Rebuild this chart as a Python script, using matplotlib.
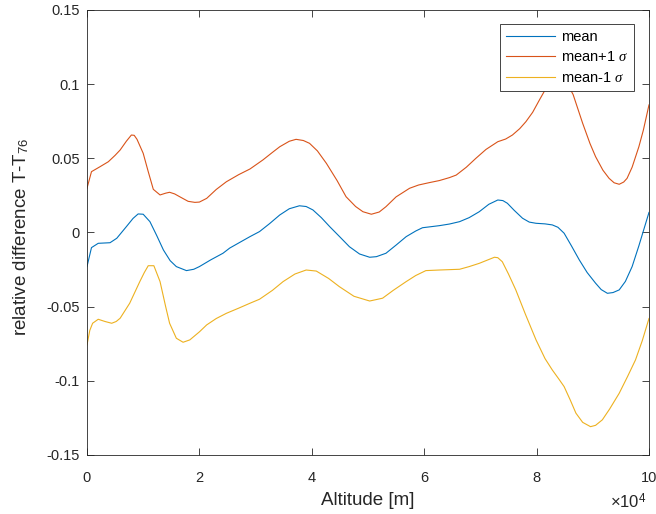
import matplotlib
matplotlib.use("Agg")
import matplotlib.pyplot as plt
import numpy as np
from matplotlib.ticker import FuncFormatter

plt.rcParams['font.family'] = ['Liberation Sans', 'DejaVu Sans']
plt.rcParams['mathtext.fontset'] = 'custom'
plt.rcParams['mathtext.rm'] = 'Liberation Sans'
plt.rcParams['mathtext.it'] = 'Liberation Serif:italic'

# altitude in units of 1e4 m
alt_mean = [0.00, 0.08, 0.20, 0.41, 0.53, 0.70, 0.82, 0.91, 1.00, 1.12, 1.24, 1.36, 1.48, 1.59,
            1.77, 1.90, 2.00, 2.20, 2.42, 2.54, 2.75, 2.90, 3.07, 3.25, 3.43, 3.60, 3.78, 3.90,
            4.02, 4.17, 4.32, 4.50, 4.67, 4.85, 5.03, 5.15, 5.32, 5.50, 5.68, 5.85, 5.97, 6.27,
            6.45, 6.63, 6.80, 6.98, 7.15, 7.31, 7.40, 7.48, 7.60, 7.75, 7.87, 7.99, 8.15, 8.28,
            8.38, 8.49, 8.62, 8.76, 8.90, 9.05, 9.15, 9.26, 9.36, 9.47, 9.58, 9.70, 9.82, 9.90, 10.0]
mean = [-0.023, -0.0102, -0.0073, -0.0069, -0.0039, 0.0039, 0.0095, 0.0125, 0.0123, 0.0073,
        -0.002, -0.0118, -0.019, -0.023, -0.0257, -0.0248, -0.023, -0.0185, -0.014, -0.0105,
        -0.006, -0.0028, 0.0006, 0.006, 0.0118, 0.016, 0.018, 0.0175, 0.0152, 0.010, 0.0039,
        -0.003, -0.0096, -0.0145, -0.0167, -0.0163, -0.014, -0.0085, -0.0028, 0.001, 0.0032,
        0.0046, 0.0057, 0.0073, 0.010, 0.014, 0.019, 0.0219, 0.0215, 0.0197, 0.015, 0.0096,
        0.007, 0.0062, 0.0058, 0.0051, 0.0035, -0.0005, -0.009, -0.0185, -0.027, -0.0342,
        -0.0385, -0.041, -0.0405, -0.0387, -0.033, -0.023, -0.009, 0.001, 0.0135]

alt_plus = [0.00, 0.08, 0.23, 0.38, 0.50, 0.59, 0.70, 0.79, 0.84, 0.89, 1.00, 1.09, 1.18, 1.30,
            1.40, 1.47, 1.56, 1.65, 1.80, 1.92, 2.00, 2.13, 2.30, 2.48, 2.70, 2.90, 3.13, 3.30,
            3.43, 3.60, 3.72, 3.85, 3.96, 4.10, 4.26, 4.45, 4.61, 4.78, 4.91, 5.06, 5.20, 5.32,
            5.50, 5.74, 5.90, 6.09, 6.27, 6.45, 6.57, 6.75, 6.92, 7.10, 7.31, 7.45, 7.57, 7.70,
            7.81, 7.93, 8.05, 8.15, 8.25, 8.35, 8.45, 8.55, 8.65, 8.82, 8.95, 9.05, 9.18, 9.29,
            9.38, 9.47, 9.55, 9.61, 9.70, 9.82, 9.90, 10.0]
mean_plus = [0.0298, 0.041, 0.0443, 0.0477, 0.052, 0.0556, 0.0615, 0.0657, 0.0655, 0.0628,
             0.0534, 0.041, 0.0291, 0.0253, 0.0265, 0.0271, 0.026, 0.0241, 0.021, 0.0203,
             0.0205, 0.023, 0.029, 0.0342, 0.039, 0.0428, 0.0489, 0.054, 0.0578, 0.0615,
             0.0628, 0.062, 0.0601, 0.055, 0.0466, 0.035, 0.0241, 0.0175, 0.014, 0.0123,
             0.0138, 0.0174, 0.024, 0.0298, 0.032, 0.0336, 0.035, 0.037, 0.0387, 0.044, 0.050,
             0.056, 0.0612, 0.063, 0.0657, 0.070, 0.0747, 0.081, 0.0893, 0.096, 0.101, 0.1035,
             0.1045, 0.100, 0.093, 0.0736, 0.060, 0.0511, 0.042, 0.0365, 0.0335, 0.0325, 0.034,
             0.0365, 0.044, 0.0578, 0.069, 0.086]

alt_minus = [0.00, 0.05, 0.10, 0.20, 0.32, 0.44, 0.52, 0.59, 0.76, 0.94, 1.02, 1.09, 1.19, 1.30,
             1.40, 1.47, 1.59, 1.71, 1.83, 2.00, 2.13, 2.30, 2.48, 2.70, 2.90, 3.07, 3.30, 3.49,
             3.70, 3.90, 4.08, 4.30, 4.49, 4.75, 5.03, 5.26, 5.45, 5.68, 5.85, 6.03, 6.27, 6.63,
             6.80, 6.98, 7.25, 7.31, 7.39, 7.50, 7.63, 7.80, 7.99, 8.15, 8.28, 8.40, 8.49, 8.60,
             8.70, 8.82, 8.96, 9.05, 9.17, 9.30, 9.47, 9.62, 9.76, 9.88, 10.0]
mean_minus = [-0.0758, -0.066, -0.0612, -0.0585, -0.060, -0.0612, -0.060, -0.0578, -0.0477,
              -0.0331, -0.027, -0.0224, -0.0224, -0.0331, -0.050, -0.0612, -0.0713, -0.074,
              -0.0724, -0.067, -0.0623, -0.058, -0.0545, -0.051, -0.0477, -0.045, -0.039,
              -0.0331, -0.028, -0.0253, -0.026, -0.031, -0.0365, -0.043, -0.0462, -0.0443,
              -0.039, -0.0331, -0.029, -0.0257, -0.0253, -0.0248, -0.023, -0.0208, -0.0167,
              -0.017, -0.0197, -0.028, -0.0387, -0.055, -0.0724, -0.085, -0.0927, -0.099,
              -0.1039, -0.113, -0.1218, -0.128, -0.1309, -0.130, -0.1263, -0.119, -0.1084,
              -0.097, -0.0859, -0.073, -0.058]

x_ticks = [0, 2e4, 4e4, 6e4, 8e4, 10e4]
y_ticks = [-0.15, -0.1, -0.05, 0, 0.05, 0.1, 0.15]
y_ticklabels = ["-0.15", "-0.1", "-0.05", "0", "0.05", "0.1", "0.15"]

AX_COLOR = "#262626"

fig = plt.figure(figsize=(6.56, 5.14), dpi=100)
ax = fig.add_axes([0.1326, 0.1148, 0.8567, 0.8658])

ax.plot(np.array(alt_mean) * 1e4, mean, color="#0072BD", lw=0.8, label="mean")
ax.plot(np.array(alt_plus) * 1e4, mean_plus, color="#D95319", lw=0.8, label=r"mean+1 $\sigma$")
ax.plot(np.array(alt_minus) * 1e4, mean_minus, color="#EDB120", lw=0.8, label=r"mean-1 $\sigma$")

ax.set_xlim(0, 1e5)
ax.set_ylim(-0.15, 0.15)
ax.set_xticks(x_ticks)
ax.set_yticks(y_ticks)
ax.set_yticklabels(y_ticklabels)
# tick labels in units of 1e4 with a MATLAB-style exponent note
ax.xaxis.set_major_formatter(FuncFormatter(lambda v, p: f"{v / 1e4:g}"))
ax.text(0.9964, -0.119, "\u00d710$^{4}$", transform=ax.transAxes, ha="right",
        va="baseline", fontsize=12, color=AX_COLOR)

ax.tick_params(direction="in", top=True, right=True, length=5, width=0.6,
               colors=AX_COLOR, labelsize=10.5)
ax.tick_params(axis="y", pad=5)
ax.tick_params(axis="x", pad=11.5)
for sp in ax.spines.values():
    sp.set_color(AX_COLOR)
    sp.set_linewidth(0.6)

ax.set_xlabel("Altitude [m]", fontsize=13.5, color=AX_COLOR, labelpad=5)
ax.set_ylabel("relative difference T-T$_{76}$", fontsize=13.5, color=AX_COLOR)
ax.yaxis.set_label_coords(-0.1, 0.49)

leg = ax.legend(loc="upper right", bbox_to_anchor=(0.9733, 0.9685), borderaxespad=0,
                fontsize=10.5, handlelength=3.4, handletextpad=0.4, labelspacing=0.45,
                fancybox=False, framealpha=1, edgecolor=AX_COLOR, borderpad=0.4)
leg.get_frame().set_linewidth(0.6)

fig.savefig("out.png", dpi=100)
